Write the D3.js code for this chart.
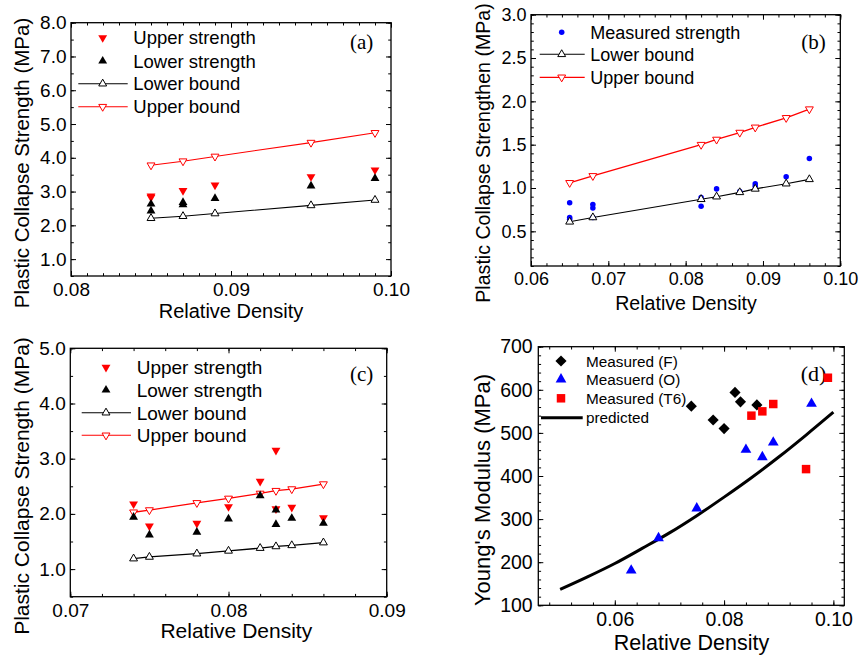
<!DOCTYPE html>
<html>
<head>
<meta charset="utf-8">
<script src="https://cdn.jsdelivr.net/npm/d3@7"></script>
<style>
  html, body { margin: 0; padding: 0; background: #fff; }
  svg { display: block; }
  text { font-family: "Liberation Sans", Arial, Helvetica, sans-serif; }
</style>
</head>
<body>
<svg id="chart" width="862" height="656"></svg>
<script>
// ---------- Panel (a) data ----------
const aBoundX = [0.085, 0.087, 0.089, 0.095, 0.099];
const aUpperBound = [3.78, 3.90, 4.04, 4.45, 4.74];
const aLowerBound = [2.21, 2.27, 2.35, 2.59, 2.75];
const aUpperStrengthX = [0.085, 0.085, 0.087, 0.089, 0.095, 0.099];
const aUpperStrength = [2.87, 2.83, 3.03, 3.19, 3.44, 3.64];
const aLowerStrengthX = [0.085, 0.085, 0.087, 0.087, 0.089, 0.095, 0.099];
const aLowerStrength = [2.63, 2.43, 2.68, 2.61, 2.80, 3.17, 3.39];
const aXTicks = [0.08, 0.09, 0.10];
const aYTicks = [1, 2, 3, 4, 5, 6, 7, 8];

// ---------- Panel (b) data ----------
const bBoundX = [0.065, 0.068, 0.082, 0.084, 0.087, 0.089, 0.093, 0.096];
const bUpperBound = [1.06, 1.14, 1.50, 1.56, 1.64, 1.70, 1.81, 1.91];
const bLowerBound = [0.61, 0.66, 0.87, 0.90, 0.95, 0.99, 1.05, 1.10];
const bMeasuredX = [0.065, 0.065, 0.065, 0.068, 0.068, 0.068, 0.082, 0.082, 0.084, 0.087, 0.089, 0.089, 0.093, 0.096];
const bMeasured = [0.83, 0.66, 0.64, 0.81, 0.77, 0.66, 0.89, 0.79, 0.99, 0.96, 1.05, 1.02, 1.13, 1.34];
const bXTicks = [0.06, 0.07, 0.08, 0.09, 0.10];
const bYTicks = [0.5, 1.0, 1.5, 2.0, 2.5, 3.0];

// ---------- Panel (c) data ----------
const cBoundX = [0.074, 0.075, 0.078, 0.080, 0.082, 0.083, 0.084, 0.086];
const cUpperBound = [2.03, 2.07, 2.20, 2.28, 2.37, 2.42, 2.45, 2.54];
const cLowerBound = [1.19, 1.22, 1.28, 1.33, 1.38, 1.41, 1.43, 1.48];
const cStrengthX = [0.074, 0.075, 0.078, 0.080, 0.082, 0.083, 0.083, 0.084, 0.086];
const cUpperStrength = [2.18, 1.78, 1.83, 2.13, 2.59, 3.15, 2.09, 2.12, 1.93];
const cLowerStrength = [1.94, 1.62, 1.67, 1.91, 2.33, 2.07, 1.81, 1.92, 1.83];
const cXTicks = [0.07, 0.08, 0.09];
const cYTicks = [1, 2, 3, 4, 5];

// ---------- Panel (d) data ----------
const dFX = [0.074, 0.078, 0.080, 0.082, 0.083, 0.086];
const dF = [562, 530, 510, 594, 572, 565];
const dOX = [0.063, 0.068, 0.075, 0.084, 0.087, 0.089, 0.096];
const dO = [181, 256, 325, 461, 444, 478, 568];
const dT6X = [0.085, 0.087, 0.089, 0.095, 0.099];
const dT6 = [540, 550, 567, 416, 628];
const dPredX = [0.050, 0.055, 0.060, 0.065, 0.070, 0.075, 0.080, 0.085, 0.090, 0.095, 0.100];
const dPred = [137, 166, 197, 232, 268, 308, 351, 396, 444, 495, 548];
const dXTicks = [0.06, 0.08, 0.10];
const dYTicks = [100, 200, 300, 400, 500, 600, 700];

const RED = "#ff0000", BLUE = "#0000ff", BLACK = "#000000";
const svg = d3.select("#chart");

function zip(xs, ys) { return xs.map((x, i) => [x, ys[i]]); }
function minorRange(a, b, step) {
  const n = Math.round((b - a) / step);
  return d3.range(n + 1).map(i => a + i * step);
}

function makePanel(cfg) {
  const g = svg.append("g");
  const x = d3.scaleLinear().domain(cfg.xDomain).range([cfg.left, cfg.right]);
  const y = d3.scaleLinear().domain(cfg.yDomain).range([cfg.bottom, cfg.top]);
  const W = cfg.right - cfg.left, H = cfg.bottom - cfg.top;
  const style = (sel, fs) => {
    sel.select(".domain").remove();
    sel.selectAll(".tick line").attr("stroke", "#000").attr("stroke-width", 1);
    sel.selectAll(".tick text").attr("fill", "#000").style("font-size", fs + "px")
      .style("font-family", '"Liberation Sans", Arial, sans-serif');
  };
  // minor ticks
  const xMinor = minorRange(cfg.xMinor[0], cfg.xMinor[1], cfg.xMinor[2]);
  const yMinor = minorRange(cfg.yMinor[0], cfg.yMinor[1], cfg.yMinor[2]);
  const mt = 2.8, Mt = 5;
  g.append("g").attr("transform", `translate(0,${cfg.bottom})`)
    .call(d3.axisBottom(x).tickValues(xMinor).tickSize(-mt).tickFormat("")).call(s => style(s, 10));
  g.append("g").attr("transform", `translate(0,${cfg.top})`)
    .call(d3.axisTop(x).tickValues(xMinor).tickSize(-mt).tickFormat("")).call(s => style(s, 10));
  g.append("g").attr("transform", `translate(${cfg.left},0)`)
    .call(d3.axisLeft(y).tickValues(yMinor).tickSize(-mt).tickFormat("")).call(s => style(s, 10));
  g.append("g").attr("transform", `translate(${cfg.right},0)`)
    .call(d3.axisRight(y).tickValues(yMinor).tickSize(-mt).tickFormat("")).call(s => style(s, 10));
  // major ticks
  g.append("g").attr("transform", `translate(0,${cfg.bottom})`)
    .call(d3.axisBottom(x).tickValues(cfg.xTicks).tickSize(-Mt).tickPadding(cfg.xPad).tickFormat(d3.format(cfg.xFmt)))
    .call(s => style(s, cfg.tickFs));
  g.append("g").attr("transform", `translate(0,${cfg.top})`)
    .call(d3.axisTop(x).tickValues(cfg.xTicks).tickSize(-Mt).tickFormat("")).call(s => style(s, 10));
  g.append("g").attr("transform", `translate(${cfg.left},0)`)
    .call(d3.axisLeft(y).tickValues(cfg.yTicks).tickSize(-Mt).tickPadding(cfg.yPad).tickFormat(d3.format(cfg.yFmt)))
    .call(s => style(s, cfg.tickFs));
  g.append("g").attr("transform", `translate(${cfg.right},0)`)
    .call(d3.axisRight(y).tickValues(cfg.yTicks).tickSize(-Mt).tickFormat("")).call(s => style(s, 10));
  // frame
  g.append("rect").attr("x", cfg.left).attr("y", cfg.top).attr("width", W).attr("height", H)
    .attr("fill", "none").attr("stroke", "#000").attr("stroke-width", 1.3);
  // axis titles
  g.append("text").attr("x", cfg.xLabelX).attr("y", cfg.xLabelY).attr("text-anchor", "middle")
    .style("font-size", cfg.labelFs + "px").text("Relative Density");
  g.append("text").attr("transform", `translate(${cfg.yLabelX},${cfg.yLabelY}) rotate(-90)`)
    .attr("text-anchor", "middle").style("font-size", (cfg.yLabelFs || cfg.labelFs) + "px").text(cfg.yLabel);
  // panel tag
  g.append("text").attr("x", cfg.tagX).attr("y", cfg.tagY).attr("text-anchor", "middle")
    .style("font-family", '"Liberation Serif", "Times New Roman", serif')
    .style("font-size", cfg.tagFs + "px").text(cfg.tag);
  return { g, x, y };
}

const triUp = (s) => d3.symbol().type(d3.symbolTriangle).size(s)();
function drawSymbols(p, pts, path, fill, stroke, rot, sw) {
  p.g.append("g").selectAll("path").data(pts).join("path")
    .attr("d", path)
    .attr("transform", d => `translate(${p.x(d[0])},${p.y(d[1])}) rotate(${rot})`)
    .attr("fill", fill).attr("stroke", stroke).attr("stroke-width", sw || 1);
}
function drawLine(p, pts, color, w, curve) {
  const line = d3.line().x(d => p.x(d[0])).y(d => p.y(d[1]));
  if (curve) line.curve(curve);
  p.g.append("path").datum(pts).attr("d", line)
    .attr("fill", "none").attr("stroke", color).attr("stroke-width", w);
}
function legendRow(g, sx, y, tx, text, fs, sym, line) {
  if (line) g.append("line").attr("x1", line[0]).attr("x2", line[1]).attr("y1", y).attr("y2", y)
    .attr("stroke", line[2]).attr("stroke-width", line[3]);
  if (sym) g.append("path").attr("d", sym.path)
    .attr("transform", `translate(${sx},${y}) rotate(${sym.rot || 0})`)
    .attr("fill", sym.fill).attr("stroke", sym.stroke).attr("stroke-width", sym.sw || 1);
  g.append("text").attr("x", tx).attr("y", y).attr("dy", "0.36em")
    .style("font-size", fs + "px").text(text);
}

const filledTri = triUp(34), openTri = triUp(27);

// ================= Panel (a) =================
const pa = makePanel({
  left: 71, right: 391, top: 22.7, bottom: 276,
  xDomain: [0.08, 0.10], yDomain: [0.5, 8.0],
  xTicks: aXTicks, yTicks: aYTicks, xFmt: ".2f", yFmt: ".1f",
  xMinor: [0.08, 0.10, 0.001], yMinor: [0.5, 8.0, 0.5],
  xPad: 7, yPad: 4.5, tickFs: 19, labelFs: 20, yLabelFs: 20.5,
  xLabelX: 231, xLabelY: 318, yLabelX: 29, yLabelY: 163,
  yLabel: "Plastic Collapse Strength (MPa)",
  tag: "(a)", tagX: 361.7, tagY: 49, tagFs: 21
});
drawLine(pa, zip(aBoundX, aUpperBound), RED, 1.1);
drawLine(pa, zip(aBoundX, aLowerBound), BLACK, 1.1);
drawSymbols(pa, zip(aBoundX, aUpperBound), openTri, "#fff", RED, 180);
drawSymbols(pa, zip(aBoundX, aLowerBound), openTri, "#fff", BLACK, 0);
drawSymbols(pa, zip(aUpperStrengthX, aUpperStrength), filledTri, RED, "none", 180);
drawSymbols(pa, zip(aLowerStrengthX, aLowerStrength), filledTri, BLACK, "none", 0);
legendRow(pa.g, 102.7, 37.7, 133.3, "Upper strength", 18.5, { path: filledTri, fill: RED, stroke: "none", rot: 180 });
legendRow(pa.g, 102.7, 61, 133.3, "Lower strength", 18.5, { path: filledTri, fill: BLACK, stroke: "none" });
legendRow(pa.g, 102.7, 83.7, 133.3, "Lower bound", 18.5, { path: openTri, fill: "#fff", stroke: BLACK }, [78.3, 127.7, BLACK, 1.1]);
legendRow(pa.g, 102.7, 106.7, 133.3, "Upper bound", 18.5, { path: openTri, fill: "#fff", stroke: RED, rot: 180 }, [78.3, 127.7, RED, 1.1]);

// ================= Panel (b) =================
const pb = makePanel({
  left: 531, right: 840.3, top: 14.7, bottom: 266,
  xDomain: [0.06, 0.10], yDomain: [0.1, 3.0],
  xTicks: bXTicks, yTicks: bYTicks, xFmt: ".2f", yFmt: ".1f",
  xMinor: [0.06, 0.10, 0.002], yMinor: [0.1, 3.0, 0.1],
  xPad: 6.7, yPad: 4.5, tickFs: 18, labelFs: 19.6,
  xLabelX: 686, xLabelY: 310, yLabelX: 490, yLabelY: 153,
  yLabel: "Plastic Collapse Strengthen (MPa)",
  tag: "(b)", tagX: 813.5, tagY: 49, tagFs: 21
});
drawLine(pb, zip(bBoundX, bUpperBound), RED, 1.3);
drawLine(pb, zip(bBoundX, bLowerBound), BLACK, 1.1);
drawSymbols(pb, zip(bMeasuredX, bMeasured), d3.symbol().type(d3.symbolCircle).size(24)(), BLUE, "none", 0);
drawSymbols(pb, zip(bBoundX, bUpperBound), openTri, "#fff", RED, 180);
drawSymbols(pb, zip(bBoundX, bLowerBound), openTri, "#fff", BLACK, 0);
legendRow(pb.g, 561.7, 32.3, 590.3, "Measured strength", 18, { path: d3.symbol().type(d3.symbolCircle).size(24)(), fill: BLUE, stroke: "none" });
legendRow(pb.g, 561.7, 54.3, 590.3, "Lower bound", 18, { path: openTri, fill: "#fff", stroke: BLACK }, [539.7, 584.7, BLACK, 1.1]);
legendRow(pb.g, 561.7, 77.3, 590.3, "Upper bound", 18, { path: openTri, fill: "#fff", stroke: RED, rot: 180 }, [539.7, 584.7, RED, 1.3]);

// ================= Panel (c) =================
const pc = makePanel({
  left: 70.3, right: 386.7, top: 348.3, bottom: 596.7,
  xDomain: [0.07, 0.09], yDomain: [0.5, 5.0],
  xTicks: cXTicks, yTicks: cYTicks, xFmt: ".2f", yFmt: ".1f",
  xMinor: [0.07, 0.09, 0.002], yMinor: [0.5, 5.0, 0.5],
  xPad: 6.6, yPad: 4.6, tickFs: 19, labelFs: 21,
  xLabelX: 236.3, xLabelY: 638, yLabelX: 29, yLabelY: 486,
  yLabel: "Plastic Collapse Strength (MPa)",
  tag: "(c)", tagX: 361.7, tagY: 381, tagFs: 21
});
drawLine(pc, zip(cBoundX, cUpperBound), RED, 1.3);
drawLine(pc, zip(cBoundX, cLowerBound), BLACK, 1.3);
drawSymbols(pc, zip(cBoundX, cUpperBound), openTri, "#fff", RED, 180);
drawSymbols(pc, zip(cBoundX, cLowerBound), openTri, "#fff", BLACK, 0);
drawSymbols(pc, zip(cStrengthX, cUpperStrength), filledTri, RED, "none", 180);
drawSymbols(pc, zip(cStrengthX, cLowerStrength), filledTri, BLACK, "none", 0);
legendRow(pc.g, 106, 367.3, 136.7, "Upper strength", 19, { path: filledTri, fill: RED, stroke: "none", rot: 180 });
legendRow(pc.g, 106, 390, 136.7, "Lower strength", 19, { path: filledTri, fill: BLACK, stroke: "none" });
legendRow(pc.g, 106, 412.7, 136.7, "Lower bound", 19, { path: openTri, fill: "#fff", stroke: BLACK }, [81.7, 131, BLACK, 1.1]);
legendRow(pc.g, 106, 435.3, 136.7, "Upper bound", 19, { path: openTri, fill: "#fff", stroke: RED, rot: 180 }, [81.7, 131, RED, 1.1]);

// ================= Panel (d) =================
const pd = makePanel({
  left: 538.3, right: 844.3, top: 346.7, bottom: 605.3,
  xDomain: [0.046, 0.102], yDomain: [100, 700],
  xTicks: dXTicks, yTicks: dYTicks, xFmt: ".2f", yFmt: "d",
  xMinor: [0.048, 0.100, 0.004], yMinor: [100, 700, 20],
  xPad: 7, yPad: 5.6, tickFs: 19.5, labelFs: 21.5, yLabelFs: 22,
  xLabelX: 691.5, xLabelY: 650, yLabelX: 489.7, yLabelY: 490,
  yLabel: "Young's Modulus (MPa)",
  tag: "(d)", tagX: 813.5, tagY: 381, tagFs: 22
});
const diamond = d3.symbol().type(d3.symbolSquare).size(62)();
const dTri = triUp(50);
const square = d3.symbol().type(d3.symbolSquare).size(72)();
drawLine(pd, zip(dPredX, dPred), BLACK, 3, d3.curveMonotoneX);
drawSymbols(pd, zip(dFX, dF), diamond, BLACK, "none", 45);
drawSymbols(pd, zip(dOX, dO), dTri, BLUE, "none", 0);
drawSymbols(pd, zip(dT6X, dT6), square, RED, "none", 0);
legendRow(pd.g, 561, 361, 586, "Measured (F)", 15.3, { path: diamond, fill: BLACK, stroke: "none", rot: 45 });
legendRow(pd.g, 561, 379.3, 586, "Measuerd (O)", 15.3, { path: dTri, fill: BLUE, stroke: "none" });
legendRow(pd.g, 561, 398.3, 586, "Measured (T6)", 15.3, { path: square, fill: RED, stroke: "none" });
legendRow(pd.g, null, 417.7, 586, "predicted", 15.3, null, [541, 582.7, BLACK, 3]);
</script>
</body>
</html>
